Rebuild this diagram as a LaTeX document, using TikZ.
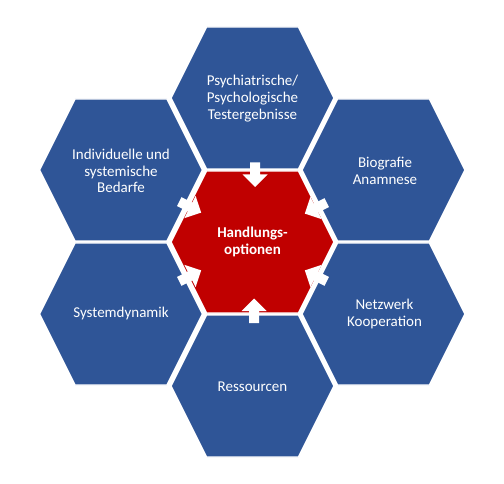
\documentclass[tikz,border=0pt]{standalone}
\usepackage{fontspec}
\usetikzlibrary{calc}
\setmainfont{Carlito}
\definecolor{hexblue}{HTML}{2F5597}
\definecolor{hexred}{HTML}{C00000}
\begin{document}
\begin{tikzpicture}[x=1pt,y=-1pt,
  hexshape/.style={draw=white, line width=1.4pt},
  hexlabel/.style={text=white, font=\fontsize{15}{16.8}\selectfont, align=center, inner sep=0pt},
  inarrow/.pic={\fill[white] (-12,-5) -- (0,-5) -- (0,-12.5) -- (12.5,0) -- (0,12.5) -- (0,5) -- (-12,5) -- cycle;}
]
\useasboundingbox (0,0) rectangle (504,484);
\coordinate (cT) at (252.5,98);
\coordinate (cB) at (252.5,386);
\coordinate (cC) at (252.5,242);
\coordinate (cUL) at (121,170);
\coordinate (cUR) at (383.5,170);
\coordinate (cLL) at (121,314);
\coordinate (cLR) at (383.5,314);
\foreach \c/\col in {cT/hexblue,cUL/hexblue,cUR/hexblue,cLL/hexblue,cLR/hexblue,cB/hexblue,cC/hexred} {
  \path[hexshape, fill=\col, shift={(\c)}] (-81.5,0) -- (-46,-71) -- (46,-71) -- (81.5,0) -- (46,71) -- (-46,71) -- cycle;
}
\pic[rotate=-90] (aT) at (255,174.5) {inarrow};
\pic[rotate=90] (aB) at (254,311) {inarrow};
\pic[rotate=-26.7] (aUL) at (190,207) {inarrow};
\pic[rotate=-153.3] (aUR) at (316,208) {inarrow};
\pic[rotate=26.7] (aLL) at (190,276) {inarrow};
\pic[rotate=153.3] (aLR) at (316,276) {inarrow};
\node[hexlabel] (tT) at ($(cT)+(0,0.5)$) {Psychiatrische/\\Psychologische\\Testergebnisse};
\node[hexlabel] (tUL) at ($(cUL)+(0,1)$) {Individuelle und\\systemische\\Bedarfe};
\node[hexlabel] (tUR) at ($(cUR)+(1.5,0.5)$) {Biografie\\Anamnese};
\node[hexlabel] (tLL) at (cLL) {Systemdynamik};
\node[hexlabel] (tLR) at ($(cLR)+(1,0)$) {Netzwerk\\Kooperation};
\node[hexlabel] (tB) at ($(cB)+(0,0.5)$) {Ressourcen};
\node[hexlabel, font=\bfseries\fontsize{15}{16.8}\selectfont] (tC) at (cC) {Handlungs-\\optionen};
\end{tikzpicture}
\end{document}
